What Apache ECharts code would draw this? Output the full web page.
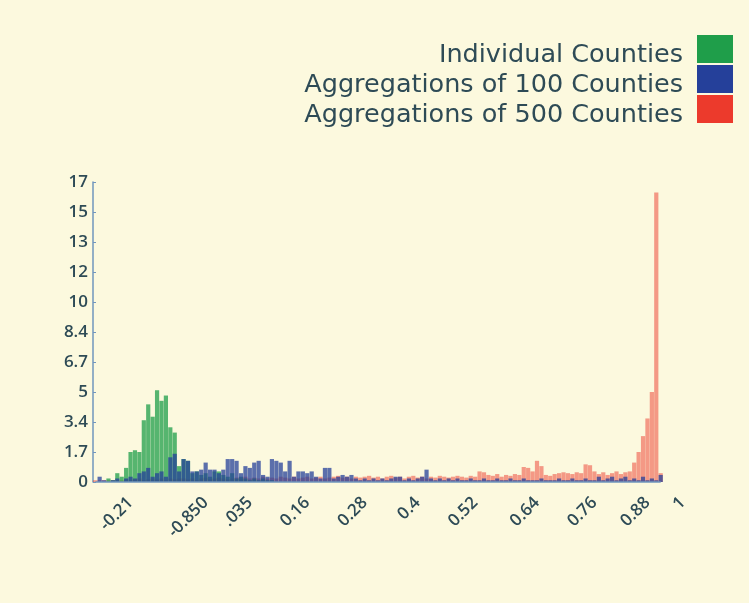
<!DOCTYPE html>
<html>
<head>
<meta charset="utf-8">
<script src="https://cdn.jsdelivr.net/npm/echarts@6/dist/echarts.min.js"></script>
<style>
  html, body { margin: 0; padding: 0; background: #fcf9de; }
  #chart { width: 749px; height: 603px; }
</style>
</head>
<body>
<div id="chart"></div>
<script>
// histogram bins: start -0.29, width 0.01; last few bins stay empty
const binStart = -0.29;
const binWidth = 0.01;
const binCount = 134;
const lastDataBin = 128;

// x tick labels as printed on the chart, and the bins they sit under
const xTickLabels = ["-0.21", "-0.850", ".035", "0.16", "0.28", "0.4", "0.52", "0.64", "0.76", "0.88", "1"];
const xTickBins = [8, 25, 35, 48, 61, 73, 86, 100, 113, 125, 133];

const yTickLabels = ["0", "1.7", "3.4", "5", "6.7", "8.4", "10", "12", "13", "15", "17"];

const individual = [
  0, 0, 0, 0.2, 0.1, 0.5, 0.3, 0.8, 1.7, 1.8,
  1.7, 3.5, 4.4, 3.7, 5.2, 4.6, 4.9, 3.1, 2.8, 0.9,
  1.3, 1.2, 0.5, 0.6, 0.4, 0.5, 0.3, 0.6, 0.6, 0.4,
  0.3, 0.5, 0.2, 0.3, 0.2, 0.1, 0.2, 0.1, 0.2, 0.1,
  0.1
];

const agg100 = [
  0, 0.3, 0.1, 0, 0.1, 0.2, 0, 0.2, 0.3, 0.2,
  0.5, 0.6, 0.8, 0.3, 0.5, 0.6, 0.3, 1.4, 1.6, 0.6,
  1.3, 1.2, 0.6, 0.6, 0.7, 1.1, 0.7, 0.7, 0.5, 0.7,
  1.3, 1.3, 1.2, 0.5, 0.9, 0.8, 1.1, 1.2, 0.4, 0.3,
  1.3, 1.2, 1.1, 0.6, 1.2, 0.3, 0.6, 0.6, 0.5, 0.6,
  0.3, 0.2, 0.8, 0.8, 0.2, 0.3, 0.4, 0.3, 0.4, 0.2,
  0.1, 0.2, 0.1, 0.2, 0.1, 0.2, 0.1, 0.2, 0.3, 0.3,
  0.1, 0.2, 0.1, 0.2, 0.3, 0.7, 0.2, 0.1, 0.2, 0.1,
  0.2, 0.1, 0.2, 0.1, 0.1, 0.2, 0.1, 0.1, 0.2, 0.1,
  0.1, 0.2, 0.1, 0.1, 0.2, 0.1, 0.1, 0.2, 0.1, 0.1,
  0.1, 0.2, 0.1, 0.1, 0.1, 0.2, 0.1, 0.1, 0.2, 0.1,
  0.1, 0.2, 0.1, 0.1, 0.3, 0.1, 0.2, 0.3, 0.1, 0.2,
  0.3, 0.1, 0.2, 0.1, 0.3, 0.1, 0.2, 0.1, 0.4
];

const agg500 = [
  0.1, 0.1, 0.1, 0.1, 0.1, 0.1, 0.1, 0.15, 0.1, 0.15,
  0.2, 0.1, 0.15, 0.2, 0.15, 0.2, 0.1, 0.2, 0.15, 0.2,
  0.2, 0.15, 0.2, 0.1, 0.2, 0.25, 0.15, 0.2, 0.25, 0.2,
  0.15, 0.2, 0.25, 0.2, 0.3, 0.2, 0.25, 0.2, 0.3, 0.2,
  0.25, 0.2, 0.3, 0.25, 0.2, 0.3, 0.2, 0.25, 0.3, 0.2,
  0.25, 0.3, 0.2, 0.25, 0.3, 0.35, 0.25, 0.3, 0.2, 0.3,
  0.25, 0.3, 0.35, 0.25, 0.3, 0.2, 0.3, 0.35, 0.25, 0.3,
  0.2, 0.3, 0.35, 0.25, 0.3, 0.2, 0.3, 0.25, 0.35, 0.3,
  0.25, 0.3, 0.35, 0.3, 0.25, 0.35, 0.3, 0.6, 0.55, 0.4,
  0.35, 0.45, 0.3, 0.4, 0.35, 0.45, 0.4, 0.85, 0.8, 0.6,
  1.2, 0.9, 0.4, 0.35, 0.45, 0.5, 0.55, 0.5, 0.45, 0.55,
  0.5, 1.0, 0.95, 0.6, 0.45, 0.55, 0.4, 0.5, 0.6, 0.45,
  0.55, 0.6, 1.1, 1.7, 2.6, 3.6, 5.1, 16.4, 0.5
];

const categories = [];
for (let i = 0; i < binCount; i++) categories.push((binStart + i * binWidth).toFixed(2));

const textColor = "#2e4b56";
const axisColor = "#7196bd";

const chart = echarts.init(document.getElementById("chart"));

function barSeries(name, data, color, opacity) {
  return {
    name,
    type: "bar",
    data,
    barWidth: "95%",
    barGap: "-100%",
    itemStyle: { color, opacity },
  };
}

const blue = barSeries("Aggregations of 100 Counties", agg100, "#25409a", 0.75);
// the baseline only runs under the filled bins, not to the last label
blue.markLine = {
  silent: true,
  symbol: "none",
  label: { show: false },
  lineStyle: { color: axisColor, width: 1.5, type: "solid", opacity: 1 },
  data: [[{ coord: [categories[0], 0] }, { coord: [categories[lastDataBin], 0] }]],
};

chart.setOption({
  backgroundColor: "#fcf9de",
  animation: false,
  legend: {
    orient: "vertical",
    right: 11,
    top: 25,
    align: "right",
    itemWidth: 36,
    itemHeight: 28,
    itemGap: -8,
    icon: "rect",
    itemStyle: { opacity: 1 },
    data: ["Individual Counties", "Aggregations of 100 Counties", "Aggregations of 500 Counties"],
    // text sits low, its baseline on the bottom of the colour box
    formatter: (name) => "{t|" + name + "}",
    textStyle: {
      rich: {
        t: {
          fontFamily: "DejaVu Sans",
          fontSize: 25.5,
          lineHeight: 16,
          color: textColor,
          padding: [12, 9, 0, 0],
        },
      },
    },
  },
  grid: { left: 93, right: 64, top: 182, bottom: 121 },
  xAxis: {
    type: "category",
    data: categories,
    axisLine: { show: false },
    axisTick: { show: false },
    axisLabel: {
      interval: (idx) => xTickBins.includes(idx),
      formatter: (v, idx) => xTickLabels[xTickBins.indexOf(idx)],
      rotate: 45,
      margin: 18,
      fontFamily: "Open Sans",
      fontSize: 17,
      fontWeight: 600,
      color: textColor,
    },
  },
  yAxis: {
    type: "value",
    min: 0,
    max: 17,
    interval: 1.7,
    splitLine: { show: false },
    axisLine: { show: true, lineStyle: { color: axisColor, width: 1.5 } },
    axisTick: { show: true, inside: true, length: 3, lineStyle: { color: axisColor } },
    axisLabel: {
      formatter: (v) => yTickLabels[Math.round(v / 1.7)],
      margin: 5,
      fontFamily: "Open Sans",
      fontSize: 17,
      fontWeight: 600,
      color: textColor,
    },
  },
  series: [
    barSeries("Aggregations of 500 Counties", agg500, "#ec3a2c", 0.5),
    barSeries("Individual Counties", individual, "#1f9e4a", 0.75),
    blue,
  ],
});
</script>
</body>
</html>
